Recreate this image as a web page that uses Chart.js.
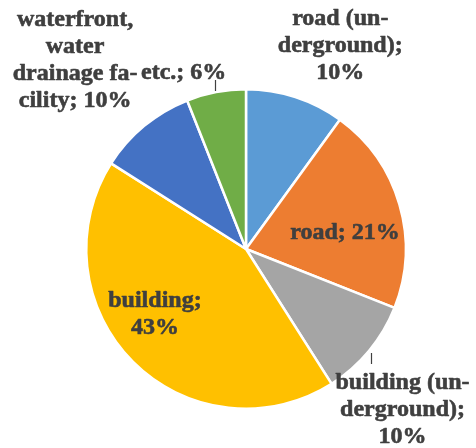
<!DOCTYPE html>
<html lang="en">
<head>
  <meta charset="UTF-8" />
  <title>Pie</title>
  <script src="https://cdn.jsdelivr.net/npm/chart.js"></script>
  <style>
    html, body { margin: 0; padding: 0; background: #fff; }
    #wrap { width: 476px; height: 448px; }
  </style>
</head>
<body>
  <div id="wrap"><canvas id="pie"></canvas></div>
  <script>
    // slices, clockwise from 12 o'clock
    const categories = ['road (un-|derground);', 'road;', 'building (un-|derground);', 'building;', 'waterfront,|water|drainage fa-|cility;', 'etc.;'];
    const shares = [10, 21, 10, 43, 10, 6];
    const colors = ['#5b9bd5', '#ed7d31', '#a5a5a5', '#ffc000', '#4472c4', '#70ad47'];

    // label block centre, in pie radii from the pie centre
    const labelAt = [[0.59, -1.275], [0.62, -0.10], [0.98, 1.005], [-0.57, 0.41], [-1.07, -1.18], [-0.39, -1.105]];
    // how the value is joined: true = same line as the last word, false = own line
    const sameLine = [false, true, false, false, true, true];
    // leader lines: [x, y0, y1] in radii from the pie centre
    const leaders = [[-0.195, -1.055, -0.99], [0.78, 0.65, 0.72]];

    const labelPlugin = {
      id: 'sliceLabels',
      afterDraw(chart) {
        const arc = chart.getDatasetMeta(0).data[0];
        const cx = arc.x, cy = arc.y, r = arc.outerRadius;
        const ctx = chart.ctx;
        ctx.save();
        ctx.fillStyle = '#3f3f3f';
        ctx.strokeStyle = '#3f3f3f';
        ctx.lineWidth = 0.6;
        ctx.lineJoin = 'round';
        ctx.font = 'bold 24px "Liberation Serif", "Times New Roman", serif';
        ctx.textAlign = 'center';
        ctx.textBaseline = 'middle';
        const lh = 27;
        categories.forEach((name, i) => {
          const parts = name.split('|');
          const pct = shares[i] + '%';
          if (sameLine[i]) parts[parts.length - 1] += ' ' + pct;
          else parts.push(pct);
          const x = cx + labelAt[i][0] * r;
          const y0 = cy + labelAt[i][1] * r - (parts.length - 1) * lh / 2;
          parts.forEach((t, k) => {
            ctx.fillText(t, x, y0 + k * lh);
            ctx.strokeText(t, x, y0 + k * lh);
          });
        });
        ctx.strokeStyle = '#404040';
        ctx.lineWidth = 1.2;
        for (const [dx, a, b] of leaders) {
          const x = Math.round(cx + dx * r) + 0.5;
          ctx.beginPath();
          ctx.moveTo(x, Math.round(cy + a * r));
          ctx.lineTo(x, Math.round(cy + b * r));
          ctx.stroke();
        }
        ctx.restore();
      }
    };

    new Chart(document.getElementById('pie'), {
      type: 'pie',
      data: {
        labels: categories,
        datasets: [{
          data: shares,
          backgroundColor: colors,
          borderColor: '#ffffff',
          borderWidth: 2.5
        }]
      },
      options: {
        responsive: true,
        maintainAspectRatio: false,
        animation: false,
        layout: { padding: { left: 85, right: 69, top: 88, bottom: 38 } },
        plugins: { legend: { display: false }, tooltip: { enabled: false } }
      },
      plugins: [labelPlugin]
    });
  </script>
</body>
</html>
